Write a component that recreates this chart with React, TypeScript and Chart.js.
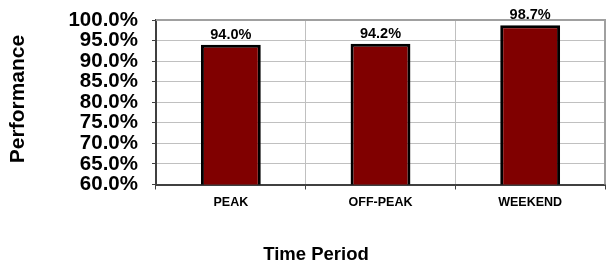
import React, { useEffect, useRef } from "react";
import { Chart, registerables } from "chart.js";

Chart.register(...registerables);

const categories = ["PEAK", "OFF-PEAK", "WEEKEND"];
const performance = [94.0, 94.2, 98.7];
const yMin = 60;
const yMax = 100;
const yStep = 5;
const xTitle = "Time Period";
const yTitle = "Performance";

const FONT = "Arial, 'Liberation Sans', Helvetica, sans-serif";

const labelPlugin = {
  id: "valueLabels",
  afterDatasetsDraw(chart: any) {
    const ctx = chart.ctx;
    const meta = chart.getDatasetMeta(0);
    ctx.save();
    ctx.font = `bold 14.5px ${FONT}`;
    ctx.fillStyle = "#000";
    ctx.textAlign = "center";
    ctx.textBaseline = "alphabetic";
    meta.data.forEach((el: any, i: number) => {
      ctx.fillText(performance[i].toFixed(1) + "%", el.x, el.y - 6);
    });
    ctx.restore();
  },
};

const titlesPlugin = {
  id: "axisTitles",
  afterDraw(chart: any) {
    const ctx = chart.ctx;
    ctx.save();
    ctx.fillStyle = "#000";
    ctx.textAlign = "center";
    ctx.textBaseline = "middle";
    ctx.font = `bold 18.5px ${FONT}`;
    ctx.fillText(xTitle, 316, 255);
    ctx.translate(18, 99);
    ctx.rotate(-Math.PI / 2);
    ctx.font = `bold 21px ${FONT}`;
    ctx.fillText(yTitle, 0, 0);
    ctx.restore();
  },
};

const borderPlugin = {
  id: "plotBorder",
  beforeDatasetsDraw(chart: any) {
    const { ctx, chartArea } = chart;
    ctx.save();
    ctx.strokeStyle = "#a0a0a0";
    ctx.lineWidth = 2;
    ctx.beginPath();
    ctx.moveTo(chartArea.left, chartArea.top);
    ctx.lineTo(chartArea.right, chartArea.top);
    ctx.lineTo(chartArea.right, chartArea.bottom);
    ctx.stroke();
    ctx.restore();
  },
};

export default function App() {
  const ref = useRef<HTMLCanvasElement>(null);
  useEffect(() => {
    if (!ref.current) return;
    const chart = new Chart(ref.current, {
      type: "bar",
      data: {
        labels: categories,
        datasets: [
          {
            data: performance,
            backgroundColor: "#800000",
            borderColor: "#000000",
            borderWidth: 3,
            barPercentage: 0.4,
            categoryPercentage: 1,
          },
        ],
      },
      options: {
        animation: false,
        responsive: false,
        maintainAspectRatio: false,
        layout: { padding: { left: 0, right: 3, top: 20, bottom: 0 } },
        plugins: {
          legend: { display: false },
          tooltip: { enabled: false },
        },
        scales: {
          x: {
            afterFit: (scale: any) => {
              scale.height = 81.5;
              scale.paddingLeft = 0;
              scale.paddingRight = 0;
            },
            grid: {
              display: true,
              offset: true,
              color: "#c0c0c0",
              tickLength: 5,
              tickColor: "#404040",
            },
            border: { color: "#404040", width: 2 },
            ticks: {
              autoSkip: false,
              maxRotation: 0,
              color: "#000",
              font: { family: FONT, size: 12.5, weight: "bold" },
              padding: 6,
            },
          },
          y: {
            min: yMin,
            max: yMax,
            afterFit: (scale: any) => {
              scale.width = 156;
              scale.paddingTop = 0;
              scale.paddingBottom = 0;
            },
            grid: {
              color: "#c0c0c0",
              tickLength: 4,
              tickColor: "#404040",
            },
            border: { color: "#404040", width: 2 },
            ticks: {
              autoSkip: false,
              stepSize: yStep,
              color: "#000",
              font: { family: FONT, size: 20.5, weight: "bold" },
              padding: 14,
              callback: (v: any) => Number(v).toFixed(1) + "%",
            },
          },
        },
      },
      plugins: [borderPlugin, labelPlugin, titlesPlugin],
    });
    return () => chart.destroy();
  }, []);
  return (
    <div style={{ position: "fixed", left: 0, top: 0, width: 608, height: 266, background: "#fff" }}>
      <canvas ref={ref} width={608} height={266} style={{ width: 608, height: 266 }} />
    </div>
  );
}
